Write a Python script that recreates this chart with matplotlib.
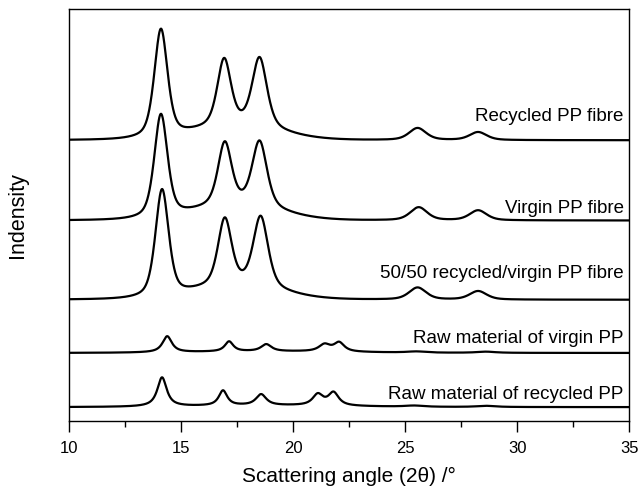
import numpy as np
import matplotlib.pyplot as plt
from matplotlib.ticker import MultipleLocator

plt.rcParams["font.family"] = ["Liberation Sans", "DejaVu Sans"]

# peak lists: centre (2theta), height (a.u.), FWHM (deg)
recycled_fibre_pos = [14.10, 16.92, 18.50, 25.55, 28.25]
recycled_fibre_h = [108, 66, 69, 12, 8]
recycled_fibre_w = [0.70, 0.72, 0.78, 0.90, 0.90]

virgin_fibre_pos = [14.10, 16.95, 18.50, 25.60, 28.25]
virgin_fibre_h = [103, 62, 65, 13, 10]
virgin_fibre_w = [0.70, 0.72, 0.78, 0.90, 0.90]

blend_fibre_pos = [14.15, 16.95, 18.55, 25.55, 28.25]
blend_fibre_h = [107, 66, 70, 12, 8.5]
blend_fibre_w = [0.70, 0.72, 0.78, 0.90, 0.90]

raw_virgin_pos = [14.38, 17.14, 18.80, 21.40, 22.05, 25.50, 28.60]
raw_virgin_h = [16, 10, 7, 7, 9, 1.2, 1.2]
raw_virgin_w = [0.50, 0.45, 0.55, 0.60, 0.55, 1.0, 1.0]

raw_recycled_pos = [14.15, 16.87, 18.57, 21.10, 21.80, 25.40, 28.60]
raw_recycled_h = [29, 15, 11, 11, 13, 1.2, 1.2]
raw_recycled_w = [0.50, 0.45, 0.55, 0.55, 0.55, 1.0, 1.0]

# broad amorphous background under each pattern: centre, height, FWHM
halo_pos = [17.5, 17.5, 17.5, 19.0, 19.0]
halo_h = [14, 15, 14, 1.5, 1.5]
halo_w = [4.3, 4.3, 4.3, 8.0, 8.0]

labels = ["Recycled PP fibre", "Virgin PP fibre", "50/50 recycled/virgin PP fibre",
          "Raw material of virgin PP", "Raw material of recycled PP"]
offsets = [280, 200, 121, 68, 14]
label_y = [304, 212, 147, 82, 27]
peak_eta = [0.5, 0.5, 0.5, 0.9, 0.9]


def profile(x, pos, h, w, eta):
    y = np.zeros_like(x)
    for c, a, fw in zip(pos, h, w):
        hw = fw / 2
        lor = 1 / (1 + ((x - c) / hw) ** 2)
        gau = np.exp(-np.log(2) * ((x - c) / hw) ** 2)
        y += a * (eta * lor + (1 - eta) * gau)
    return y


x = np.linspace(10, 35, 2500)
series = [
    (recycled_fibre_pos, recycled_fibre_h, recycled_fibre_w),
    (virgin_fibre_pos, virgin_fibre_h, virgin_fibre_w),
    (blend_fibre_pos, blend_fibre_h, blend_fibre_w),
    (raw_virgin_pos, raw_virgin_h, raw_virgin_w),
    (raw_recycled_pos, raw_recycled_h, raw_recycled_w),
]

fig = plt.figure(figsize=(6.39, 4.92), dpi=100)
ax = fig.add_axes([0.108, 0.144, 0.877, 0.838])

for i, (pos, h, w) in enumerate(series):
    y = profile(x, pos, h, w, peak_eta[i])
    y += profile(x, [halo_pos[i]], [halo_h[i]], [halo_w[i]], 0.0)
    ax.plot(x, y + offsets[i], color="black", lw=1.6)
    ax.text(34.75, label_y[i], labels[i], ha="right", va="center", fontsize=13.5)

ax.set_xlim(10, 35)
ax.set_ylim(0, 411)
ax.xaxis.set_major_locator(MultipleLocator(5))
ax.xaxis.set_minor_locator(MultipleLocator(2.5))
ax.set_yticks([])
ax.tick_params(axis="x", which="major", direction="out", length=8, width=1, labelsize=12, pad=6)
ax.tick_params(axis="x", which="minor", direction="out", length=4, width=1)
for s in ax.spines.values():
    s.set_linewidth(1)
ax.set_xlabel("Scattering angle (2θ) /°", fontsize=15, labelpad=8)
ax.set_ylabel("Indensity", fontsize=15.5)
ax.yaxis.set_label_coords(-0.074, 0.5)

fig.savefig("out.png", dpi=100)
